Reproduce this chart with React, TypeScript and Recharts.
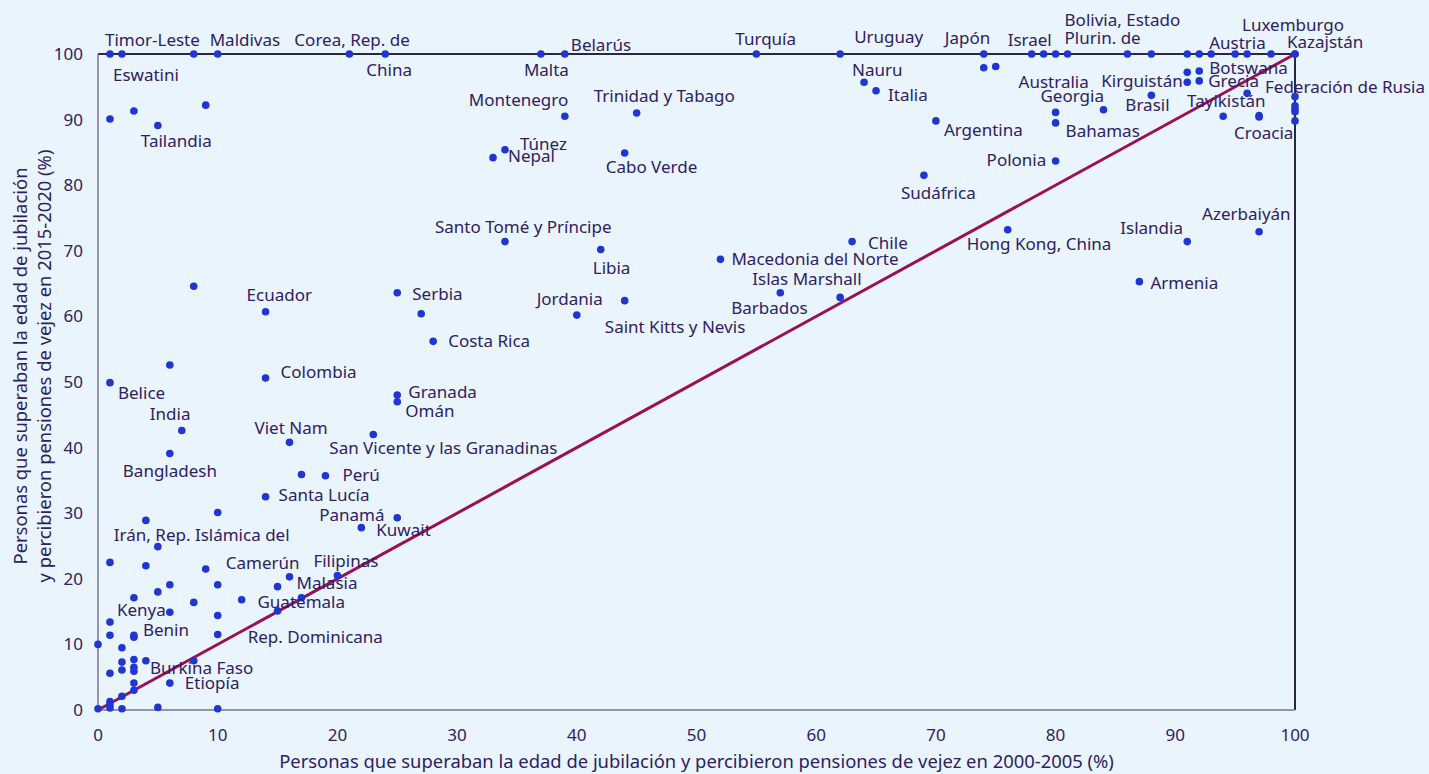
import React from 'react';
import { ScatterChart, Scatter, XAxis, YAxis, ReferenceLine } from 'recharts';

// ---- Data ----
const labeledNames = [
  'Timor-Leste', 'Eswatini', 'Maldivas', 'Corea, Rep. de', 'China', 'Malta', 'Belarús', 'Turquía', 'Uruguay',
  'Japón', 'Israel', 'Bolivia, Estado\nPlurin. de', 'Austria', 'Luxemburgo', 'Kazajstán',
  'Tailandia', 'Montenegro', 'Trinidad y Tabago', 'Túnez', 'Nepal', 'Cabo Verde', 'Nauru', 'Italia',
  'Argentina', 'Australia', 'Bahamas', 'Georgia', 'Brasil', 'Kirguistán', 'Botswana', 'Grecia',
  'Tayikistán', 'Croacia', 'Federación de Rusia', 'Polonia', 'Sudáfrica', 'Chile', 'Hong Kong, China',
  'Islandia', 'Azerbaiyán', 'Armenia', 'Barbados', 'Islas Marshall', 'Macedonia del Norte',
  'Santo Tomé y Príncipe', 'Libia', 'Jordania', 'Saint Kitts y Nevis', 'Serbia', 'Costa Rica', 'Ecuador',
  'Colombia', 'Belice', 'Granada', 'Omán', 'India', 'Viet Nam', 'San Vicente y las Granadinas',
  'Bangladesh', 'Perú', 'Santa Lucía', 'Panamá', 'Kuwait', 'Irán, Rep. Islámica del', 'Camerún',
  'Filipinas', 'Malasia', 'Guatemala', 'Rep. Dominicana', 'Kenya', 'Benin', 'Burkina Faso', 'Etiopía',
];
const labeledX = [
  1, 2, 10, 21, 24, 37, 39, 55, 62,
  74, 78, 81, 93, 100, 100,
  5, 39, 45, 34, 33, 44, 64, 65,
  70, 80, 80, 84, 88, 91, 92, 92,
  96, 97, 100, 80, 69, 63, 76,
  91, 97, 87, 62, 57, 52,
  34, 42, 44, 40, 25, 28, 14,
  14, 1, 25, 25, 7, 16, 23,
  6, 19, 14, 25, 22, 5, 9,
  20, 16, 17, 10, 1, 3, 4, 6,
];
const labeledY = [
  100, 100, 100, 100, 100, 100, 100, 100, 100,
  100, 100, 100, 100, 100, 100,
  89.1, 90.5, 91.0, 85.4, 84.2, 84.9, 95.7, 94.4,
  89.8, 91.1, 89.5, 91.5, 93.7, 95.7, 97.4, 95.9,
  94.0, 90.4, 93.5, 83.7, 81.5, 71.4, 73.2,
  71.4, 72.9, 65.3, 62.9, 63.6, 68.7,
  71.4, 70.2, 62.4, 60.2, 63.6, 56.2, 60.7,
  50.6, 49.9, 48.0, 47.0, 42.6, 40.8, 42.0,
  39.1, 35.7, 32.5, 29.3, 27.8, 24.9, 21.5,
  20.5, 20.3, 17.1, 11.5, 13.4, 11.1, 7.5, 4.1,
];
const otherX = [
  8, 79, 80, 86, 88, 91, 92, 95, 96, 98,
  1, 3, 9, 8, 74, 75, 91, 94, 97, 100, 100, 100, 100,
  27, 6, 17, 10, 4, 1, 4, 6, 10, 15, 5, 3, 8, 12, 15, 6, 10,
  1, 3, 0, 2, 2, 3, 2, 3, 3, 1, 8, 3, 3, 2, 1, 1, 1, 0, 2, 5, 10,
];
const otherY = [
  100, 100, 100, 100, 100, 100, 100, 100, 100, 100,
  90.1, 91.3, 92.2, 64.6, 97.9, 98.1, 97.2, 90.5, 90.6, 92.1, 91.6, 91.2, 89.8,
  60.4, 52.6, 35.9, 30.1, 28.9, 22.5, 22.0, 19.1, 19.1, 18.8, 18.0, 17.1, 16.4, 16.8, 15.1, 14.9, 14.4,
  11.4, 11.4, 10.0, 9.5, 7.3, 7.7, 6.1, 6.5, 5.9, 5.6, 7.5, 4.1, 3.0, 2.1, 1.3, 0.8, 0.3, 0.2, 0.2, 0.4, 0.2,
];
const axisTicks = [0, 10, 20, 30, 40, 50, 60, 70, 80, 90, 100];
const xTitle = 'Personas que superaban la edad de jubilación y percibieron pensiones de vejez en 2000-2005 (%)';
const yTitleLines = [
  'Personas que superaban la edad de jubilación',
  'y percibieron pensiones de vejez en 2015-2020 (%)',
];

// ---- Label layout (pixel offsets from the point; text-anchor start) ----
const LABEL_LAYOUT: Record<string, [number, number]> = {
  'Timor-Leste': [-5, -8], 'Eswatini': [-9, 27], 'Maldivas': [-8, -8], 'Corea, Rep. de': [-55, -8],
  'China': [-19, 22], 'Malta': [-17, 22], 'Belarús': [6, -3], 'Turquía': [-21, -9], 'Uruguay': [14, -11],
  'Japón': [-39, -10], 'Israel': [-24, -8], 'Bolivia, Estado\nPlurin. de': [-3, -28], 'Austria': [-2, -5],
  'Luxemburgo': [-53, -23], 'Kazajstán': [-8, -6], 'Tailandia': [-17, 21], 'Montenegro': [-96, -10],
  'Trinidad y Tabago': [-43, -11], 'Túnez': [15, 0], 'Nepal': [15, 4], 'Cabo Verde': [-19, 20],
  'Nauru': [-12, -6], 'Italia': [12, 10], 'Argentina': [8, 15], 'Australia': [-37, -24], 'Bahamas': [10, 14],
  'Georgia': [-63, -8], 'Brasil': [-26, 16], 'Kirguistán': [-86, 5], 'Botswana': [10, 3], 'Grecia': [9, 6],
  'Tayikistán': [-60, 14], 'Croacia': [-25, 22], 'Federación de Rusia': [-30, -4], 'Polonia': [-69, 5],
  'Sudáfrica': [-23, 24], 'Chile': [16, 7], 'Hong Kong, China': [-41, 20], 'Islandia': [-67, -8],
  'Azerbaiyán': [-57, -12], 'Armenia': [11, 7], 'Barbados': [-109, 17], 'Islas Marshall': [-28, -8],
  'Macedonia del Norte': [11, 6], 'Santo Tomé y Príncipe': [-70, -9], 'Libia': [-8, 25],
  'Jordania': [-88, 4], 'Saint Kitts y Nevis': [28, 18], 'Serbia': [15, 7], 'Costa Rica': [15, 6],
  'Ecuador': [-19, -11], 'Colombia': [15, 0], 'Belice': [8, 16], 'Granada': [11, 3], 'Omán': [8, 15],
  'India': [-32, -11], 'Viet Nam': [-35, -8], 'San Vicente y las Granadinas': [-44, 20],
  'Bangladesh': [-47, 23], 'Perú': [17, 5], 'Santa Lucía': [13, 4], 'Panamá': [-78, 3], 'Kuwait': [15, 8],
  'Irán, Rep. Islámica del': [-44, -6], 'Camerún': [20, 0], 'Filipinas': [-24, -9], 'Malasia': [7, 12],
  'Guatemala': [-44, 10], 'Rep. Dominicana': [30, 8], 'Kenya': [7, -6], 'Benin': [9, -1],
  'Burkina Faso': [4, 13], 'Etiopía': [15, 6],
};

const BG = '#eaf4fd';
const TEXT = '#2e2160';
const DOT = '#1f36d1';
const DIAG = '#9a0f55';
const FRAME = '#2e2448';
const AXIS = '#7a7590';
const FONT = '"Noto Sans", "Open Sans", sans-serif';

const labeledData = labeledNames.map((name, i) => ({ name, x: labeledX[i], y: labeledY[i] }));
const otherData = otherX.map((x, i) => ({ name: '', x, y: otherY[i] }));
const allData = [...otherData, ...labeledData];

const Dot = (props: any) => {
  const { cx, cy } = props;
  if (cx == null || cy == null) return null;
  return <circle cx={cx} cy={cy} r={3.8} fill={DOT} />;
};

const LabelMark = (props: any) => {
  const { cx, cy, payload } = props;
  if (cx == null || cy == null || !payload || !payload.name) return <g />;
  const lay = LABEL_LAYOUT[payload.name] || [8, 5];
  const lines = String(payload.name).split('\n');
  return (
    <text x={cx + lay[0]} y={cy + lay[1]} fill={TEXT} fontSize={17} fontFamily={FONT} textAnchor="start">
      {lines.map((ln, i) => (
        <tspan key={i} x={cx + lay[0]} dy={i === 0 ? 0 : 18}>{ln}</tspan>
      ))}
    </text>
  );
};

const XTitle = (props: any) => {
  const vb = props.viewBox || { x: 98, y: 710, width: 1197, height: 30 };
  return (
    <text x={vb.x + vb.width / 2} y={768} textAnchor="middle" fill={TEXT} fontSize={18.4} fontFamily={FONT}>
      {xTitle}
    </text>
  );
};

const YTitle = () => {
  const cy = 366;
  return (
    <g>
      {yTitleLines.map((t, i) => {
        const x = 27 + i * 24;
        return (
          <text key={i} x={x} y={cy} transform={`rotate(-90 ${x} ${cy})`} textAnchor="middle" fill={TEXT} fontSize={18.4} fontFamily={FONT}>
            {t}
          </text>
        );
      })}
    </g>
  );
};

export default function App() {
  return (
    <div style={{ position: 'absolute', left: 0, top: 0, width: 1429, height: 774, background: BG, fontFamily: FONT }}>
      <ScatterChart width={1429} height={774} margin={{ top: 54, right: 134, bottom: 34, left: 38 }}>
        <XAxis
          type="number"
          dataKey="x"
          domain={[0, 100]}
          ticks={axisTicks}
          interval={0}
          tickLine={false}
          tickSize={0}
          tickMargin={19}
          height={30}
          axisLine={{ stroke: AXIS, strokeWidth: 1.5 }}
          tick={{ fill: TEXT, fontSize: 17, fontFamily: FONT }}
          label={<XTitle />}
        />
        <YAxis
          type="number"
          dataKey="y"
          domain={[0, 100]}
          ticks={axisTicks}
          interval={0}
          tickLine={false}
          tickSize={0}
          tickMargin={15}
          width={60}
          axisLine={{ stroke: AXIS, strokeWidth: 1.5 }}
          tick={{ fill: TEXT, fontSize: 17, fontFamily: FONT }}
          label={<YTitle />}
        />
        <ReferenceLine y={100} stroke={FRAME} strokeWidth={2} />
        <ReferenceLine x={100} stroke={FRAME} strokeWidth={2} />
        <ReferenceLine segment={[{ x: 0, y: 0 }, { x: 100, y: 100 }]} stroke={DIAG} strokeWidth={3} />
        <Scatter data={allData} shape={<Dot />} isAnimationActive={false} />
        <Scatter data={labeledData} shape={<LabelMark />} isAnimationActive={false} />
      </ScatterChart>
    </div>
  );
}
